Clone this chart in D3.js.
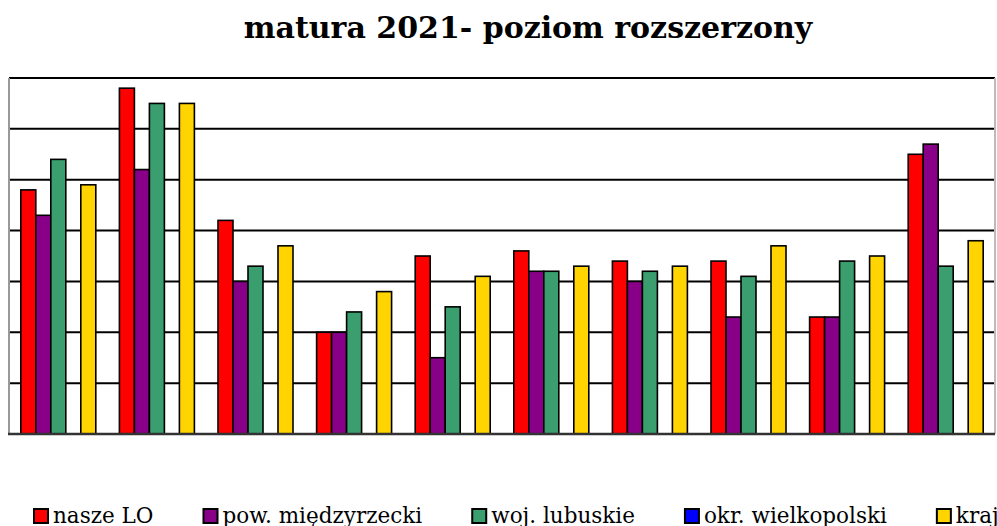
<!DOCTYPE html>
<meta charset="utf-8">
<body style="margin:0;background:#fff">
<div class="chart"></div>
<script src="https://d3js.org/d3.v7.min.js"></script>
<script>
    // subjects are not labelled in the picture, only numbered here
    const categories = ["1", "2", "3", "4", "5", "6", "7", "8", "9", "10"];
    const seriesNames = ["nasze LO", "pow. międzyrzecki", "woj. lubuskie", "okr. wielkopolski", "kraj"];
    const seriesColors = ["#ff0000", "#880088", "#3a9e6e", "#0000ff", "#ffd400"];

    const naszeLO = [48, 68, 42, 20, 35, 36, 34, 34, 23, 55];
    const powiat = [43, 52, 30, 20, 15, 32, 30, 23, 23, 57];
    const wojewodztwo = [54, 65, 33, 24, 25, 32, 32, 31, 34, 33];
    const okreg = [null, null, null, null, null, null, null, null, null, null];
    const kraj = [49, 65, 37, 28, 31, 33, 33, 37, 35, 38];
    const values = [naszeLO, powiat, wojewodztwo, okreg, kraj];
    const yTicks = [0, 10, 20, 30, 40, 50, 60, 70];

    const width = 997, height = 526;
    const margin = {top: 78, right: 2, bottom: 92, left: 9};

    let svg = d3.select(".chart").append("svg")
        .attr("width", width)
        .attr("height", height)
        .style("display", "block");

    let x0 = d3.scaleBand()
        .domain(categories)
        .range([margin.left, width - margin.right])
        .padding(0);

    let x1 = d3.scaleBand()
        .domain(seriesNames)
        .range([0, x0.bandwidth()])
        .paddingInner(0)
        .paddingOuter(0.787);

    let y = d3.scaleLinear()
        .domain([0, 70])
        .range([height - margin.bottom, margin.top]);

    // gridlines
    svg.append("g")
        .selectAll("line")
        .data(yTicks.slice(1))
        .join("line")
        .attr("x1", margin.left)
        .attr("x2", width - margin.right)
        .attr("y1", d => y(d))
        .attr("y2", d => y(d))
        .attr("stroke", "#000")
        .attr("stroke-width", 2);

    // left / right frame
    svg.append("line")
        .attr("x1", margin.left).attr("x2", margin.left)
        .attr("y1", y(70)).attr("y2", y(0))
        .attr("stroke", "#999").attr("stroke-width", 2);
    svg.append("line")
        .attr("x1", width - margin.right).attr("x2", width - margin.right)
        .attr("y1", y(70)).attr("y2", y(0))
        .attr("stroke", "#bbb").attr("stroke-width", 2);

    // bars
    let groups = svg.append("g")
        .selectAll("g")
        .data(categories)
        .join("g")
        .attr("transform", d => `translate(${x0(d)},0)`);

    groups.selectAll("rect")
        .data((c, i) => seriesNames.map((s, k) => ({s: s, k: k, v: values[k][i]})).filter(d => d.v != null))
        .join("rect")
        .attr("x", d => x1(d.s))
        .attr("y", d => y(d.v))
        .attr("width", x1.bandwidth())
        .attr("height", d => y(0) - y(d.v))
        .attr("fill", d => seriesColors[d.k])
        .attr("stroke", "#000")
        .attr("stroke-width", 1.6);

    // x axis line
    svg.append("line")
        .attr("x1", margin.left - 1).attr("x2", width - margin.right)
        .attr("y1", y(0)).attr("y2", y(0))
        .attr("stroke", "#333").attr("stroke-width", 2.5);

    // title
    svg.append("text")
        .attr("x", 528)
        .attr("y", 38)
        .attr("text-anchor", "middle")
        .style("font-family", "'DejaVu Serif', serif")
        .style("font-weight", "bold")
        .style("font-size", "30px")
        .text("matura 2021- poziom rozszerzony");

    // legend
    let legend = svg.append("g");
    let lx = 34;
    seriesNames.forEach((name, k) => {
        legend.append("rect")
            .attr("x", lx).attr("y", 509)
            .attr("width", 14).attr("height", 14)
            .attr("fill", seriesColors[k])
            .attr("stroke", "#000").attr("stroke-width", 2);
        let t = legend.append("text")
            .attr("x", lx + 19)
            .attr("y", 523)
            .style("font-family", "'DejaVu Serif', serif")
            .style("font-size", "21.5px")
            .text(name);
        lx += 19 + t.node().getComputedTextLength() + 50;
    });
</script>
